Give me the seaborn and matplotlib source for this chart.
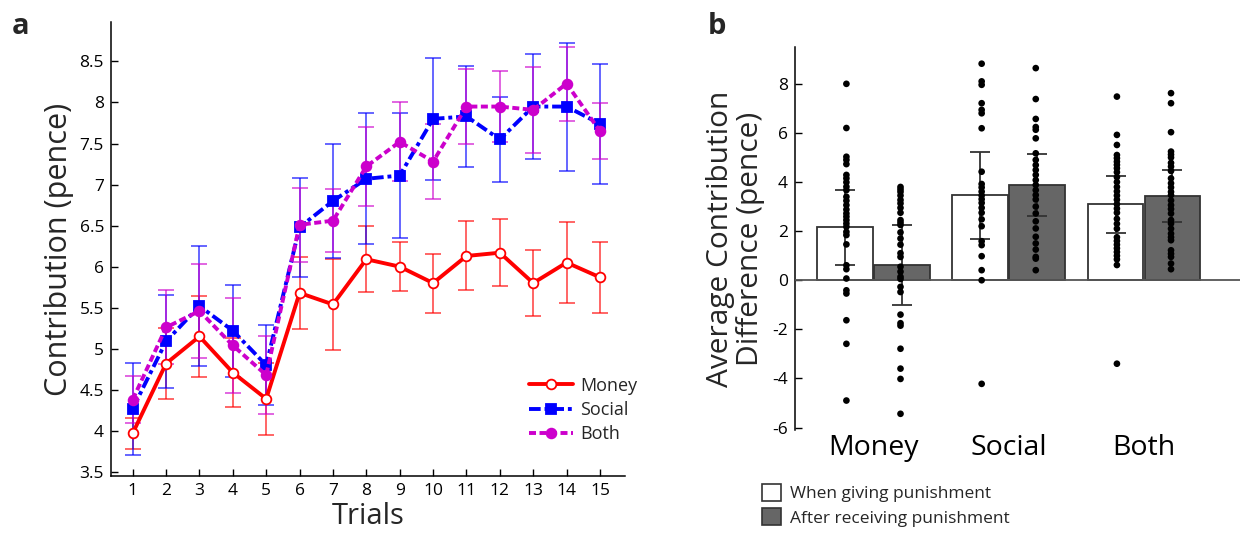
import matplotlib
matplotlib.use("Agg")
import matplotlib.pyplot as plt
from matplotlib.patches import Patch
import seaborn as sns
import numpy as np
import pandas as pd

# ---------------- data: panel a ----------------
trials = list(range(1, 16))
money_mean = [3.97, 4.82, 5.15, 4.71, 4.39, 5.68, 5.54, 6.09, 6.00, 5.80, 6.13, 6.17, 5.80, 6.05, 5.87]
money_err = [0.19, 0.43, 0.49, 0.42, 0.44, 0.44, 0.55, 0.40, 0.30, 0.36, 0.42, 0.41, 0.40, 0.49, 0.43]
social_mean = [4.27, 5.09, 5.52, 5.22, 4.80, 6.48, 6.80, 7.07, 7.11, 7.80, 7.83, 7.55, 7.95, 7.95, 7.74]
social_err = [0.56, 0.57, 0.73, 0.56, 0.49, 0.60, 0.69, 0.80, 0.76, 0.74, 0.62, 0.52, 0.64, 0.78, 0.73]
both_mean = [4.38, 5.26, 5.46, 5.04, 4.68, 6.51, 6.56, 7.22, 7.52, 7.28, 7.95, 7.95, 7.91, 8.23, 7.65]
both_err = [0.29, 0.45, 0.57, 0.58, 0.47, 0.45, 0.38, 0.48, 0.48, 0.46, 0.46, 0.43, 0.52, 0.45, 0.34]
series_names = ["Money", "Social", "Both"]
ytick_vals_a = [3.5, 4, 4.5, 5, 5.5, 6, 6.5, 7, 7.5, 8, 8.5]
ytick_labels_a = ["3.5", "4", "4.5", "5", "5.5", "6", "6.5", "7", "7.5", "8", "8.5"]

# ---------------- data: panel b ----------------
conditions = ["Money", "Social", "Both"]
types = ["When giving punishment", "After receiving punishment"]
bar_means_giving = [2.15, 3.47, 3.10]
bar_err_giving = [1.51, 1.77, 1.16]
bar_means_after = [0.62, 3.88, 3.44]
bar_err_after = [1.64, 1.27, 1.07]

money_giving = [8.0, 6.2, 5.03, 4.90, 4.73, 4.29, 4.15, 3.99, 3.81, 3.67, 3.40, 3.24, 3.06, 2.88, 2.72,
                2.59, 2.45, 2.31, 2.18, 1.97, 1.84, 1.46, 0.61, 0.45, 0.07, -0.41, -0.54, -1.63, -2.59, -4.9]
money_after = [3.80, 3.70, 3.60, 3.45, 3.27, 3.13, 2.95, 2.75, 2.45, 2.35, 2.25, 1.95, 1.70, 1.45, 1.10,
               0.95, 0.55, 0.35, 0.14, 0.05, -0.27, -0.48, -1.40, -1.75, -1.85, -2.79, -3.60, -4.02, -5.44]
social_giving = [8.82, 8.10, 7.96, 7.21, 6.94, 6.80, 6.19, 4.42, 3.92, 3.78, 3.61, 3.45, 3.30, 3.15, 2.95,
                 2.75, 2.48, 2.20, 1.59, 1.43, 0.98, 0.41, 0.0, -4.22]
social_after = [8.64, 7.38, 6.57, 6.24, 6.13, 5.78, 5.17, 4.90, 4.69, 4.49, 4.29, 4.08, 3.88, 3.67, 3.47,
                3.29, 3.00, 2.72, 2.40, 2.11, 1.77, 1.50, 1.25, 0.95, 0.88, 0.41]
both_giving = [7.48, 5.92, 5.51, 5.10, 4.97, 4.83, 4.70, 4.56, 4.40, 4.20, 4.00, 3.80, 3.62, 3.45, 3.28,
               3.10, 2.92, 2.75, 2.50, 2.30, 2.10, 1.75, 1.60, 1.45, 1.30, 1.15, 1.00, 0.85, 0.62, -3.40]
both_after = [7.62, 7.21, 6.03, 5.24, 5.12, 5.00, 4.78, 4.63, 4.45, 4.15, 3.95, 3.78, 3.60, 3.47, 3.25,
              3.06, 2.90, 2.72, 2.45, 2.31, 2.10, 1.90, 1.75, 1.63, 1.22, 1.08, 0.95, 0.68, 0.45]
ytick_vals_b = [-6, -4, -2, 0, 2, 4, 6, 8]

# ---------------- style ----------------
sns.set_theme(style="ticks")
plt.rcParams['font.family'] = ['Open Sans', 'DejaVu Sans']
plt.rcParams['axes.linewidth'] = 1.1

RED = "#ff0000"
BLUE = "#0000ff"
MAG = "#cc00cc"

fig = plt.figure(figsize=(12.45, 5.37), dpi=100)

# ================= panel a =================
axA = fig.add_axes([111 / 1245, 1 - 476 / 537, (625 - 111) / 1245, (476 - 22) / 537])
styles = [
    (money_mean, money_err, RED, '-', 'o', 'white'),
    (social_mean, social_err, BLUE, (0, (3, 1, 1, 1)), 's', BLUE),
    (both_mean, both_err, MAG, (0, (1.8, 0.9)), 'o', MAG),
]
for name, (m, e, col, ls, mk, mfc) in zip(series_names, styles):
    axA.errorbar(trials, m, yerr=e, fmt='none', ecolor=col, alpha=0.7,
                 elinewidth=1.2, capsize=6, capthick=1.2, zorder=2)
for name, (m, e, col, ls, mk, mfc) in zip(series_names, styles):
    sns.lineplot(x=trials, y=m, ax=axA, color=col, linestyle=ls, marker=mk,
                 markerfacecolor=mfc, markeredgecolor=col, markeredgewidth=1.3,
                 markersize=7, linewidth=2.8, label=name, zorder=3)

axA.set_xlim(0.35, 15.75)
axA.set_ylim(3.45, 8.98)
axA.set_xticks(trials)
axA.set_xticklabels([str(t) for t in trials])
axA.set_yticks(ytick_vals_a)
axA.set_yticklabels(ytick_labels_a)
axA.tick_params(direction='in', length=5, width=1, labelsize=12.5, colors='black', pad=5)
sns.despine(ax=axA)
axA.spines['left'].set_color('black')
axA.spines['bottom'].set_color('black')
axA.set_xlabel("Trials", fontsize=21, labelpad=2)
axA.set_ylabel("Contribution (pence)", fontsize=22, labelpad=4)
axA.legend(loc='upper left', bbox_to_anchor=(0.80, 0.235), frameon=False, fontsize=13,
           handlelength=2.4, handletextpad=0.4, labelspacing=0.35, borderaxespad=0)

# ================= panel b =================
axB = fig.add_axes([795 / 1245, 1 - 430 / 537, (1240 - 795) / 1245, (430 - 47) / 537])
bars_df = pd.DataFrame({
    "condition": conditions * 2,
    "type": [types[0]] * 3 + [types[1]] * 3,
    "mean": bar_means_giving + bar_means_after,
    "err": bar_err_giving + bar_err_after,
})
dot_lists = {
    ("Money", types[0]): money_giving, ("Money", types[1]): money_after,
    ("Social", types[0]): social_giving, ("Social", types[1]): social_after,
    ("Both", types[0]): both_giving, ("Both", types[1]): both_after,
}
rows = []
for (c, t), vals in dot_lists.items():
    for v in vals:
        rows.append({"condition": c, "type": t, "value": v})
dots_df = pd.DataFrame(rows)

sns.barplot(data=bars_df, x="condition", y="mean", hue="type", order=conditions, hue_order=types,
            palette={types[0]: "white", types[1]: "#666666"}, edgecolor="#333333", linewidth=1.3,
            width=0.84, gap=0.02, errorbar=None, ax=axB, legend=False, zorder=2)

# error bars at bar centres
for p in axB.patches:
    h = p.get_height()
    xc = p.get_x() + p.get_width() / 2
    idx = int(np.argmin(np.abs(bars_df["mean"].values - h)))
    axB.errorbar([xc], [h], yerr=[bars_df["err"].values[idx]], fmt='none', ecolor='#333333',
                 elinewidth=1.3, capsize=7, capthick=1.3, zorder=4)

sns.stripplot(data=dots_df, x="condition", y="value", hue="type", order=conditions, hue_order=types,
              dodge=True, jitter=False, palette={types[0]: "black", types[1]: "black"},
              size=4.8, linewidth=0, ax=axB, legend=False, zorder=5)

axB.axhline(0, color="#555555", lw=1.3, zorder=3)
axB.set_xlim(-0.58, 2.71)
axB.set_ylim(-6.1, 9.5)
axB.set_yticks(ytick_vals_b)
axB.set_yticklabels([str(v) for v in ytick_vals_b])
axB.tick_params(axis='y', direction='in', length=5, width=1, labelsize=12.5, colors='black', pad=5)
axB.tick_params(axis='x', length=0, labelsize=20.5, colors='black', pad=3)
sns.despine(ax=axB, bottom=True)
axB.spines['left'].set_color('black')
axB.set_xlabel("")
axB.set_ylabel("Average Contribution\nDifference (pence)", fontsize=21.5, labelpad=5, linespacing=1.08)

handles = [Patch(facecolor="white", edgecolor="#333333", lw=1.2),
           Patch(facecolor="#666666", edgecolor="#333333", lw=1.2)]
fig.legend(handles, types, loc='upper left', bbox_to_anchor=(762 / 1245, 1 - 484 / 537),
           frameon=False, fontsize=12.5, handlelength=1.1, handleheight=1.1,
           handletextpad=0.5, labelspacing=0.35, borderaxespad=0, borderpad=0)

fig.text(12 / 1245, 1 - 12 / 537, "a", fontsize=21, fontweight='bold', va='top', ha='left')
fig.text(708 / 1245, 1 - 12 / 537, "b", fontsize=21, fontweight='bold', va='top', ha='left')

fig.savefig("out.png", dpi=100)
